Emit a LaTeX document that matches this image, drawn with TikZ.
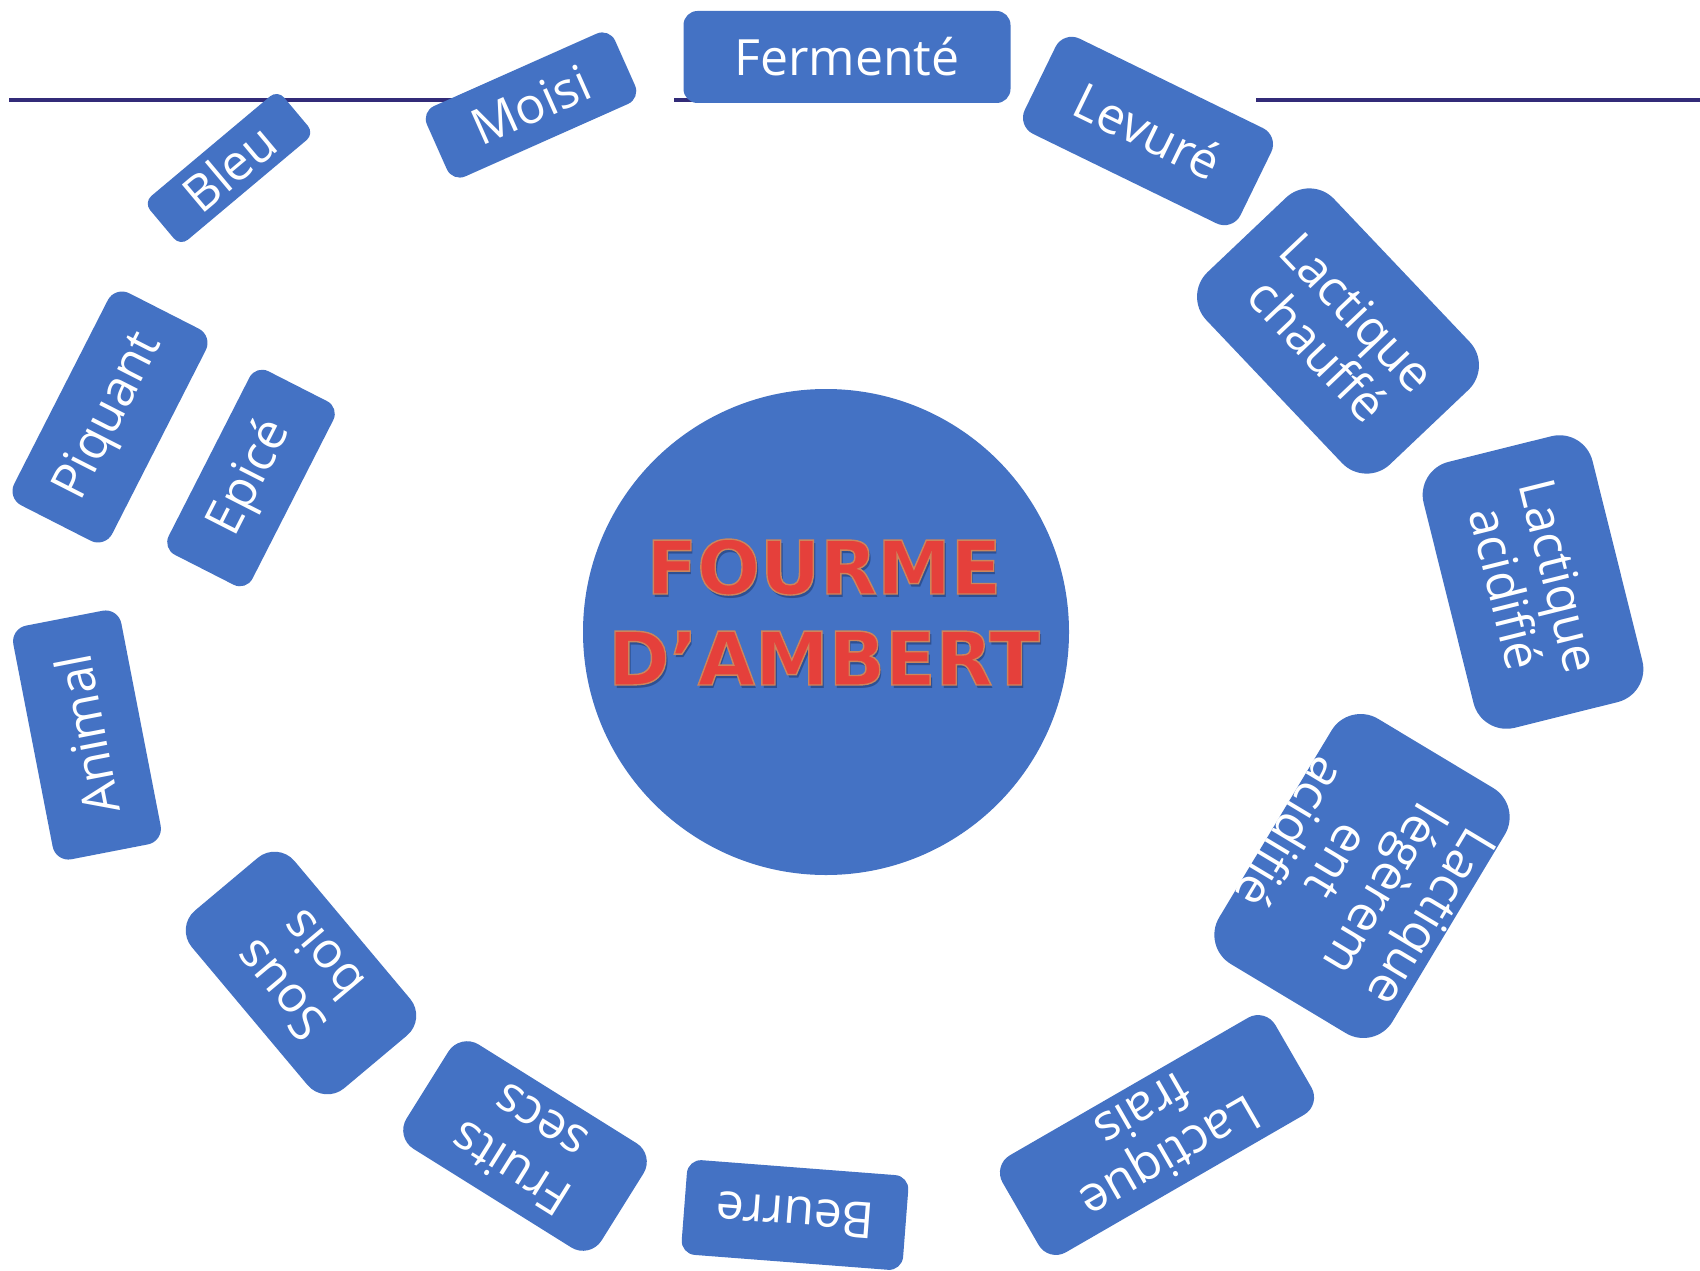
\documentclass[tikz,border=0pt]{standalone}
\usepackage{fontspec}
\newfontfamily\labfont{Open Sans}
\newfontfamily\titlefont{DejaVu Sans}
\definecolor{boxblue}{HTML}{4472C4}
\definecolor{rulecol}{HTML}{322B78}
\definecolor{titlered}{HTML}{E5403B}
\definecolor{titleshade}{HTML}{2E5092}
% fill the glyphs and stroke them with a thin tan edge
\newcommand{\edged}[1]{\special{pdf:code q 2 Tr 1.4 w 0.80 0.52 0.36 RG}#1\special{pdf:code Q}}

\begin{document}
\begin{tikzpicture}[x=1pt,y=-1pt,
  tag/.style={fill=boxblue, text=white, inner sep=0pt, align=center,
    font=\labfont\fontsize{50}{55}\selectfont, rounded corners=#1},
  tag/.default=14pt,
  ttl/.style={font=\titlefont\bfseries\fontsize{74}{80}\selectfont,
    inner sep=0pt, anchor=base},
  rule/.style={draw=rulecol, line width=4pt}]

\useasboundingbox (0,0) rectangle (1700,1271);
\fill[white] (0,0) rectangle (1700,1271);

% horizontal rule, broken around the top labels
\coordinate (r1a) at (9,100);    \coordinate (r1b) at (560,100);
\coordinate (r2a) at (674,100);  \coordinate (r2b) at (760,100);
\coordinate (r3a) at (1256,100); \coordinate (r3b) at (1700,100);
\draw[rule] (r1a) -- (r1b) (r2a) -- (r2b) (r3a) -- (r3b);

% central disc with the cheese name
\node[circle, fill=boxblue, minimum size=486pt, inner sep=0pt] (core) at (826,632) {};
\node[ttl, text=titleshade] (t1s) at (826,597) {FOURME};
\node[ttl, text=titleshade] (t2s) at (826,688) {D’AMBERT};
\node[ttl, text=titlered] (t1) at (824,594) {\edged{FOURME}};
\node[ttl, text=titlered] (t2) at (824,685) {\edged{D’AMBERT}};

% aroma labels around the disc
\node[tag, minimum width=327pt, minimum height=92pt] (fermente) at (847,57) {Fermenté};
\node[tag, minimum width=206pt, minimum height=77pt, rotate=24] (moisi) at (531,105) {Moisi};
\node[tag=10pt, minimum width=175pt, minimum height=57pt, rotate=40] (bleu) at (229,168) {Bleu};
\node[tag=18pt, minimum width=240pt, minimum height=106pt, rotate=-26] (levure) at (1148,131) {Levuré};
\node[tag=34pt, minimum width=265pt, minimum height=176pt, rotate=-46.5] (lchauffe) at (1338,331) {Lactique\\chauffé};
\node[tag=34pt, minimum width=274pt, minimum height=174pt, rotate=-76] (lacide) at (1533,582) {Lactique\\acidifié};
\node[tag=34pt, minimum width=286pt, minimum height=195pt, rotate=-121] (lleger) at (1362,876) {Lactique\\légèrem\\ent\\acidifié};
\node[tag=20pt, minimum width=315pt, minimum height=112pt, rotate=210] (lfrais) at (1157,1135) {Lactique\\frais};
\node[tag=14pt, minimum width=222pt, minimum height=95pt, rotate=175.6] (beurre) at (795,1215) {Beurre};
\node[tag=22pt, minimum width=230pt, minimum height=123pt, rotate=148] (fruits) at (525,1146) {Fruits\\secs};
\node[tag=26pt, minimum width=232pt, minimum height=134pt, rotate=130] (sousbois) at (301,973) {Sous\\bois};
\node[tag=16pt, minimum width=238pt, minimum height=110pt, rotate=101] (animal) at (87,735) {Animal};
\node[tag=16pt, minimum width=238pt, minimum height=110pt, rotate=63] (piquant) at (110,417) {Piquant};
\node[tag=14pt, minimum width=206pt, minimum height=94pt, rotate=63] (epice) at (251,478) {Epicé};

\end{tikzpicture}
\end{document}
